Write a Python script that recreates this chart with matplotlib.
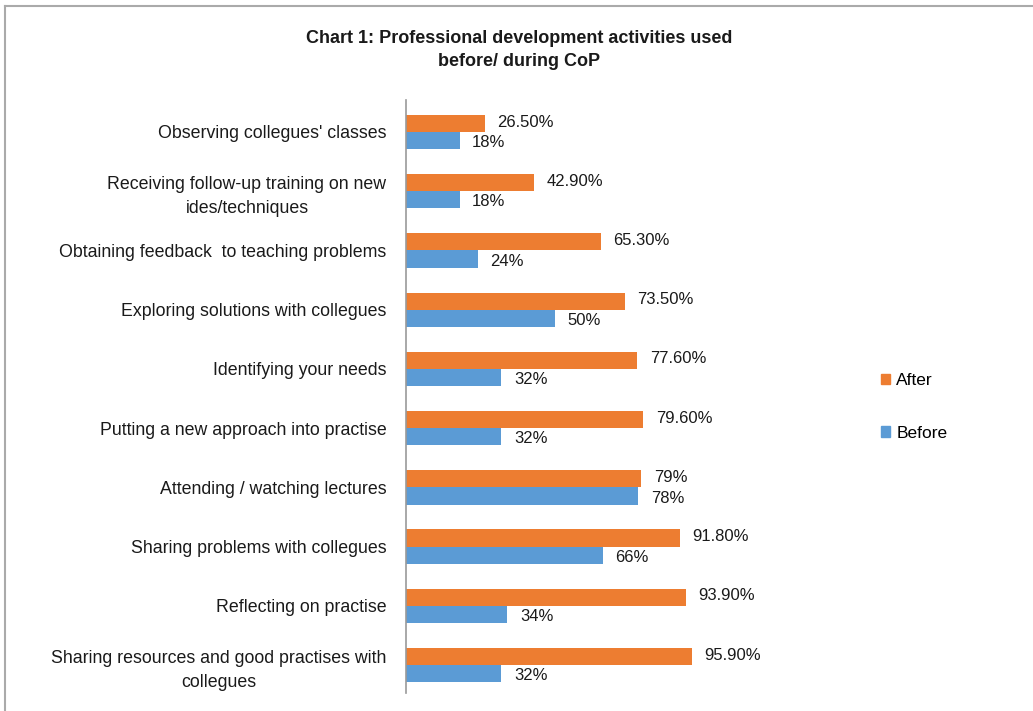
import numpy as np
import matplotlib.pyplot as plt
from matplotlib.lines import Line2D
from matplotlib.patches import Patch

plt.rcParams['font.family'] = ['Liberation Sans', 'DejaVu Sans']

categories = [
    "Observing collegues' classes",
    "Receiving follow-up training on new\nides/techniques",
    "Obtaining feedback  to teaching problems",
    "Exploring solutions with collegues",
    "Identifying your needs",
    "Putting a new approach into practise",
    "Attending / watching lectures",
    "Sharing problems with collegues",
    "Reflecting on practise",
    "Sharing resources and good practises with\ncollegues",
]
after = [26.5, 42.9, 65.3, 73.5, 77.6, 79.6, 79, 91.8, 93.9, 95.9]
before = [18, 18, 24, 50, 32, 32, 78, 66, 34, 32]
after_labels = ["26.50%", "42.90%", "65.30%", "73.50%", "77.60%", "79.60%",
                "79%", "91.80%", "93.90%", "95.90%"]
before_labels = ["18%", "18%", "24%", "50%", "32%", "32%", "78%", "66%", "34%", "32%"]

orange = '#ED7D31'
blue = '#5B9BD5'

W, H = 1033, 711
fig = plt.figure(figsize=(W / 100, H / 100), dpi=100)

# axes placed in pixel coordinates of the reference
left, right, top, bottom = 406, 704, 100, 693
ax = fig.add_axes([left / W, 1 - bottom / H, (right - left) / W, (bottom - top) / H])

y = np.arange(len(categories))
h = 0.29
ax.barh(y - h / 2, after, height=h, color=orange, label='After')
ax.barh(y + h / 2, before, height=h, color=blue, label='Before')

for yi, v, s in zip(y, after, after_labels):
    ax.annotate(s, (v, yi - h / 2), xytext=(9, 1), textcoords='offset points',
                va='center', ha='left', fontsize=12, color='#1a1a1a')
for yi, v, s in zip(y, before, before_labels):
    ax.annotate(s, (v, yi + h / 2), xytext=(9, -1.5), textcoords='offset points',
                va='center', ha='left', fontsize=12, color='#1a1a1a')

ax.set_xlim(0, 100)
ax.set_ylim(9.47, -0.54)
ax.set_yticks(y)
ax.set_yticklabels(categories, fontsize=12.8, color='#1a1a1a', linespacing=1.55)
ax.tick_params(axis='y', length=0, pad=14)
ax.set_xticks([])
for sp in ['top', 'right', 'bottom']:
    ax.spines[sp].set_visible(False)
ax.spines['left'].set_color('#999999')
ax.spines['left'].set_linewidth(1.2)
for lab in ax.get_yticklabels():
    lab.set_horizontalalignment('right')
    lab.set_multialignment('center')

fig.text(519 / W, 1 - 50 / H, "Chart 1: Professional development activities used\nbefore/ during CoP",
         ha='center', va='center', fontsize=13, fontweight='bold', color='#1a1a1a',
         linespacing=1.45)

handles = [Patch(color=orange, label='After'), Patch(color=blue, label='Before')]
fig.legend(handles=handles, loc='center left', bbox_to_anchor=(865 / W, 1 - 407 / H),
           frameon=False, fontsize=12.5, handlelength=0.55, handleheight=0.55,
           handletextpad=0.35, labelspacing=2.15)

# chart frame (top and left edges)
fig.add_artist(Line2D([5 / W, 1], [1 - 6 / H, 1 - 6 / H], color='#aaaaaa', lw=1.5,
                      transform=fig.transFigure))
fig.add_artist(Line2D([5 / W, 5 / W], [0, 1 - 6 / H], color='#aaaaaa', lw=1.5,
                      transform=fig.transFigure))

fig.savefig('out.png', dpi=100)
